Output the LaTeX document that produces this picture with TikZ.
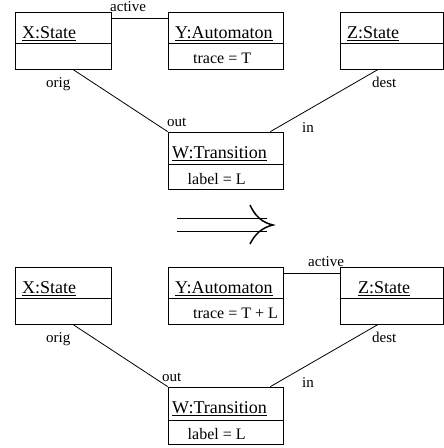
\documentclass[tikz,border=0pt]{standalone}
\usepackage{fontspec}
\setmainfont{Liberation Serif}
\begin{document}
\begin{tikzpicture}[x=1pt,y=-1pt,
  objbox/.style={draw=black,line width=0.8pt,anchor=center,inner sep=0pt,minimum height=57.5pt},
  ttl/.style={anchor=base west,inner sep=0pt,font=\fontsize{18}{20}\selectfont},
  attr/.style={anchor=base west,inner sep=0pt,font=\fontsize{16}{18}\selectfont},
  lbl/.style={anchor=base west,inner sep=0pt,font=\fontsize{15}{17}\selectfont},
  uline/.style={line width=1.2pt},
  sepline/.style={line width=0.8pt,black},
  conn/.style={line width=0.8pt,black},
  dbl/.style={line width=1.5pt}]
\useasboundingbox (0,0) rectangle (444,448);
% ---------------- top half ----------------
\node[objbox,minimum width=96pt]  (X1) at (63,40.75) {};
\node[objbox,minimum width=115pt] (Y1) at (225.5,40.75) {};
\node[objbox,minimum width=103pt] (Z1) at (391.5,40.75) {};
\node[objbox,minimum width=115pt] (W1) at (225.5,160.75) {};
\draw[sepline] (15,43) -- (111,43);
\draw[sepline] (168,43) -- (283,43);
\draw[sepline] (340,43) -- (443,43);
\draw[sepline] (168,164) -- (283,164);
\node[ttl] (tX1) at (22,38) {X:State};
\node[ttl] (tY1) at (175,38) {Y:Automaton};
\node[ttl] (tZ1) at (347,38) {Z:State};
\node[ttl] (tW1) at (172,158) {W:Transition};
\draw[uline] ([yshift=-2.6pt]tX1.base west) -- ([yshift=-2.6pt]tX1.base east);
\draw[uline] ([yshift=-2.6pt]tY1.base west) -- ([yshift=-2.6pt]tY1.base east);
\draw[uline] ([yshift=-2.6pt]tZ1.base west) -- ([yshift=-2.6pt]tZ1.base east);
\draw[uline] ([yshift=-2.6pt]tW1.base west) -- ([yshift=-2.6pt]tW1.base east);
\node[attr] (aY1) at (193,63.5) {trace = T};
\node[attr] (aW1) at (187.5,184) {label = L};
\coordinate (o1) at (73,69.5);
\coordinate (d1) at (378,69.5);
\coordinate (act1) at (111,18);
\draw[conn] (act1) -- (Y1.west |- act1);
\draw[conn] (o1) -- (W1.north west);
\draw[conn] (d1) -- ([xshift=-13pt]W1.north east);
\node[lbl] (lact1) at (110,11.5) {active};
\node[lbl] (lor1) at (46,87.5) {orig};
\node[lbl] (lde1) at (372,87.5) {dest};
\node[lbl] (lout1) at (167,126) {out};
\node[lbl] (lin1) at (302,132) {in};
% ---------------- arrow ----------------
\coordinate (ar) at (273,225);
\draw[dbl] (177,218.5) -- (267,218.5);
\draw[dbl] (177,231.5) -- (267,231.5);
\draw[dbl] (250,205) .. controls (255,216) and (262,222.5) .. (ar)
                     .. controls (262,227.5) and (255,234) .. (250,244);
% ---------------- bottom half ----------------
\node[objbox,minimum width=96pt]  (X2) at (63,295.75) {};
\node[objbox,minimum width=115pt] (Y2) at (225.5,295.75) {};
\node[objbox,minimum width=103pt] (Z2) at (391.5,295.75) {};
\node[objbox,minimum width=115pt] (W2) at (225.5,415.75) {};
\draw[sepline] (15,298.5) -- (111,298.5);
\draw[sepline] (168,298.5) -- (283,298.5);
\draw[sepline] (340,298.5) -- (443,298.5);
\draw[sepline] (168,420) -- (283,420);
\node[ttl] (tX2) at (22,293) {X:State};
\node[ttl] (tY2) at (175,293) {Y:Automaton};
\node[ttl] (tZ2) at (358,293) {Z:State};
\node[ttl] (tW2) at (172,413) {W:Transition};
\draw[uline] ([yshift=-2.6pt]tX2.base west) -- ([yshift=-2.6pt]tX2.base east);
\draw[uline] ([yshift=-2.6pt]tY2.base west) -- ([yshift=-2.6pt]tY2.base east);
\draw[uline] ([yshift=-2.6pt]tZ2.base west) -- ([yshift=-2.6pt]tZ2.base east);
\draw[uline] ([yshift=-2.6pt]tW2.base west) -- ([yshift=-2.6pt]tW2.base east);
\node[attr] (aY2) at (193,318.5) {trace = T + L};
\node[attr] (aW2) at (187.5,439) {label = L};
\coordinate (o2) at (73,324.5);
\coordinate (d2) at (378,324.5);
\coordinate (act2) at (283,273);
\draw[conn] (act2) -- (Z2.west |- act2);
\draw[conn] (o2) -- (W2.north west);
\draw[conn] (d2) -- ([xshift=-13pt]W2.north east);
\node[lbl] (lact2) at (308,266.5) {active};
\node[lbl] (lor2) at (46,342.5) {orig};
\node[lbl] (lde2) at (372,342.5) {dest};
\node[lbl] (lout2) at (162,381) {out};
\node[lbl] (lin2) at (302,387) {in};
\end{tikzpicture}
\end{document}
